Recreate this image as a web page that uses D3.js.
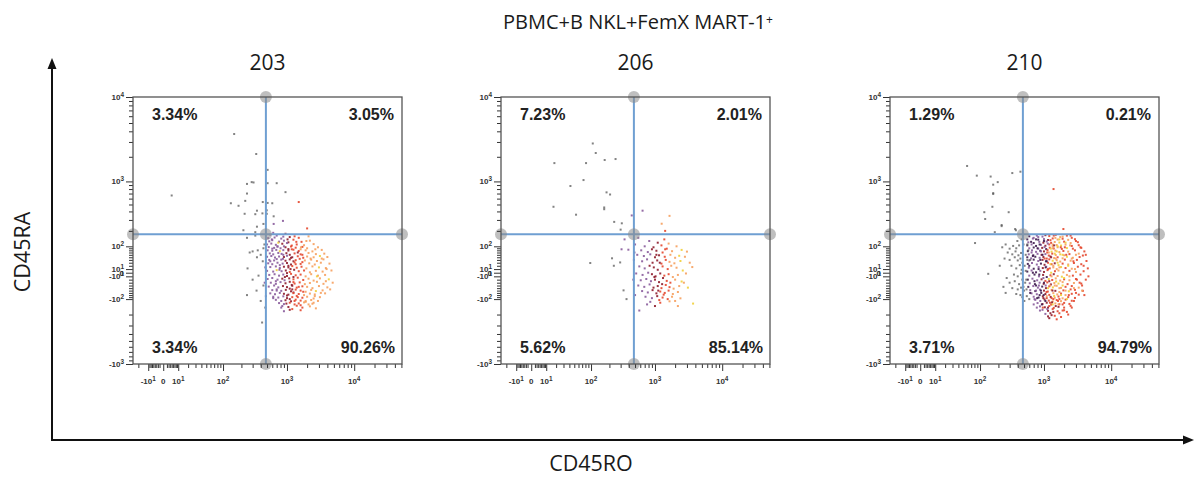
<!DOCTYPE html>
<html>
<head>
<meta charset="utf-8">
<script src="https://cdn.jsdelivr.net/npm/d3@7"></script>
<style>
  body { margin: 0; background: #fff; }
  svg { display: block; }
</style>
</head>
<body>
<svg id="chart" width="1194" height="477"></svg>
<script>
// ---------------- data ----------------
const figureTitle = "PBMC+B NKL+FemX MART-1";
const xAxisName = "CD45RO";
const yAxisName = "CD45RA";
const sampleIds = ["203", "206", "210"];

// quadrant percentages per sample
const pctUpperLeft  = [3.34, 7.23, 1.29];
const pctUpperRight = [3.05, 2.01, 0.21];
const pctLowerLeft  = [3.34, 5.62, 3.71];
const pctLowerRight = [90.26, 85.14, 94.79];

// quadrant gates (CD45RO, CD45RA)
const gateRO = 480;
const gateRA = 175;

// axis tick values
const xMajorTicks = [-10, 0, 10, 100, 1000, 10000];
const yMajorTicks = [-1000, -100, -10, 0, 10, 100, 1000, 10000];

// events: [CD45RO, CD45RA, colour class]
// colour class: 0 grey, 1 purple, 2 maroon, 3 red, 4 orange, 5 yellow, 6 dark purple
const events203 = [
  [560,172,1],[700,165,1],[950,178,2],[1300,160,3],[620,185,1],
  [520,148,1],[650,152,1],[820,145,1],[1100,155,2],[1500,150,3],[2100,160,4],[880,158,1],
  [540,128,1],[600,135,1],[760,126,1],[900,132,1],[1250,138,3],[1650,125,3],[2200,132,4],[1050,122,2],
  [500,110,1],[580,115,1],[680,108,1],[850,114,2],[1000,118,1],[1400,110,3],[1800,106,4],[2500,112,4],[1180,104,3],[740,120,5],
  [530,96,1],[640,92,1],[720,98,1],[800,90,1],[950,95,2],[1150,99,3],[1350,93,3],[1700,97,3],[2000,90,4],[2900,95,4],[600,88,1],[1050,86,2],
  [510,80,1],[600,78,1],[690,82,1],[780,76,5],[880,81,1],[1050,79,2],[1250,83,3],[1500,77,3],[1900,80,4],[2400,75,4],[3300,82,4],[1600,85,4],
  [550,66,1],[620,62,1],[740,68,1],[830,64,1],[980,67,2],[1100,60,2],[1300,66,3],[1600,62,3],[2100,68,4],[2700,63,4],[3600,65,4],[1450,70,2],
  [500,52,1],[580,55,1],[660,49,1],[760,53,1],[900,51,2],[1000,56,1],[1200,50,2],[1450,54,3],[1750,48,3],[2000,53,4],[2500,50,4],[3100,55,5],[4000,51,4],[870,44,1],
  [540,40,1],[640,38,1],[700,43,1],[820,41,1],[950,37,2],[1100,42,2],[1350,39,3],[1550,44,3],[1850,38,4],[2300,41,4],[2800,36,4],[3500,42,4],[1250,35,2],
  [520,28,1],[600,25,1],[720,30,1],[860,27,1],[1000,29,2],[1150,24,2],[1300,31,3],[1600,26,3],[1700,32,3],[2150,28,4],[2600,24,4],[3200,30,4],[4300,27,4],[780,22,1],
  [560,16,1],[680,18,1],[780,13,1],[900,17,2],[1050,15,2],[1200,19,3],[1400,14,3],[1650,17,3],[1950,12,4],[2400,18,4],[3000,15,5],[3800,13,4],[1130,10,2],
  [500,5,1],[620,3,1],[700,7,5],[830,4,1],[960,6,2],[1100,2,3],[1280,8,2],[1500,4,3],[1800,6,3],[2200,1,4],[2700,5,4],[3400,3,4],[4600,6,4],[1000,-1,2],
  [540,-6,1],[650,-4,1],[760,-8,1],[880,-5,1],[1000,-9,2],[1150,-3,3],[1350,-7,3],[1600,-5,3],[1900,-10,4],[2300,-4,4],[2900,-8,4],[3700,-6,4],[1250,-12,2],
  [510,-18,1],[600,-15,1],[720,-20,1],[850,-17,2],[920,-22,1],[1080,-16,2],[1250,-19,3],[1450,-14,3],[1750,-21,3],[2100,-17,4],[2500,-23,4],[3100,-16,4],[4200,-19,5],[680,-25,1],
  [570,-30,1],[680,-34,1],[800,-28,1],[950,-32,2],[1100,-27,2],[1300,-33,3],[1550,-29,3],[1850,-35,4],[2200,-31,4],[2800,-27,4],[3500,-34,4],[4800,-30,4],[1180,-38,2],
  [530,-44,1],[640,-40,1],[740,-47,1],[870,-42,2],[1000,-46,2],[1200,-41,2],[1400,-48,3],[1700,-43,3],[2000,-45,4],[2400,-50,4],[3000,-42,4],[4000,-47,4],[1100,-52,2],
  [600,-58,1],[700,-55,1],[820,-61,1],[960,-57,2],[1150,-63,2],[1350,-56,3],[1600,-60,3],[1900,-65,4],[2300,-57,4],[2700,-62,5],[3400,-59,4],[1250,-68,2],
  [560,-72,1],[660,-76,1],[780,-70,1],[900,-74,2],[1050,-78,2],[1250,-71,3],[1500,-75,3],[1800,-80,4],[2200,-73,4],[2600,-77,4],[3700,-72,4],[1000,-82,2],
  [620,-88,1],[740,-92,1],[880,-86,1],[1000,-95,2],[1200,-90,3],[1400,-84,3],[1700,-93,3],[2000,-88,4],[2500,-97,4],[3100,-90,4],[1100,-100,2],
  [680,-104,1],[820,-110,1],[950,-106,2],[1150,-112,2],[1350,-103,3],[1600,-108,3],[1900,-115,4],[2300,-105,4],[2900,-110,4],
  [760,-122,1],[900,-128,1],[1100,-120,3],[1300,-130,3],[1500,-124,3],[1800,-118,4],[2400,-126,4],
  [850,-140,1],[1050,-146,2],[1400,-138,3],[1700,-150,3],[2200,-142,4],
  [1200,-160,3],[1600,-168,3],[2700,-155,4],[900,-175,1],
  [590,140,1],[720,100,1],[880,60,1],[1020,140,2],[1180,85,3],[1380,125,3],[1620,95,4],[1950,130,4],[2650,85,4],[3300,45,4],
  [560,35,1],[770,8,1],[930,-12,2],[1200,-55,2],[1450,-90,3],[1750,-65,3],[2100,-130,4],[2600,-85,4],[3800,-25,4],[4400,-55,4],
  [620,-95,1],[820,-150,1],[1100,-165,2],[1300,-110,3],[1600,-135,3],[2500,-120,4],[3200,-70,4],[3900,10,4],[1700,60,3],[2250,45,4],
  [1050,20,2],[1250,-28,3],[1500,-45,3],[900,100,1],[1350,25,3],[1900,-110,4],[2800,-10,5],[1150,48,2],[700,-60,1],[980,-125,2],
  // sparse events outside the main population
  [153,3720,0],[341,2160,0],[510,1390,0],[245,930,0],[290,980,0],[310,970,0],[510,950,0],[700,950,0],
  [5,660,0],[245,700,0],[950,730,0],[135,520,0],[180,480,0],[230,560,0],[430,540,0],[510,525,0],[600,520,0],
  [1500,540,3],[350,410,0],[495,415,0],[225,370,0],[330,365,0],[425,375,0],[495,370,0],[630,340,0],
  [870,290,1],[440,260,0],[630,260,1],[215,205,0],[330,190,0],[350,235,0],[2000,220,3],
  [245,150,0],[330,165,0],[270,70,0],[300,75,0],[360,80,0],[440,90,0],[400,60,0],[350,50,0],[430,35,0],
  [470,15,1],[370,-8,0],[250,12,0],[300,-20,0],[440,-40,0],[345,-60,0],[480,-85,1],[245,-80,0],
  [420,-270,0],[460,-30,1],[400,-110,0],[455,110,0],[470,-150,0]
];

const events206 = [
  [560,150,1],[820,130,1],[1100,120,2],[1380,140,3],[500,110,1],[700,100,1],[950,95,2],[1250,105,3],[1600,115,4],[2100,100,4],
  [620,80,1],[780,72,1],[900,85,2],[1050,78,2],[1300,70,3],[1500,88,3],[1800,76,4],[2500,82,5],[3000,74,4],
  [540,60,1],[680,55,1],[850,62,1],[1000,50,2],[1150,58,2],[1400,52,3],[1700,60,4],[2000,48,4],[2300,56,5],[2800,52,4],
  [480,40,1],[640,35,1],[760,42,1],[920,30,2],[1080,38,2],[1250,27,3],[1450,40,3],[1650,33,4],[1950,28,4],[2400,36,5],[3300,30,4],
  [580,18,1],[700,12,1],[830,20,2],[960,15,2],[1100,8,2],[1300,18,3],[1550,10,3],[1750,20,4],[2100,14,4],[2600,6,5],[3600,16,4],
  [520,-2,1],[650,-6,1],[790,0,1],[900,-4,2],[1020,-10,2],[1200,-2,2],[1380,-8,3],[1600,-4,3],[1850,-12,4],[2200,-6,4],[2900,-2,4],
  [610,-22,1],[740,-18,1],[870,-25,1],[1000,-20,2],[1150,-28,2],[1320,-15,2],[1500,-24,3],[1700,-30,3],[2000,-20,4],[2500,-26,5],
  [560,-40,1],[690,-45,1],[830,-36,1],[950,-48,2],[1100,-42,2],[1250,-50,3],[1450,-38,3],[1650,-46,3],[1900,-52,4],[2300,-42,4],[3100,-48,5],
  [640,-62,1],[780,-68,1],[920,-58,2],[1050,-72,2],[1200,-64,3],[1400,-70,3],[1600,-60,3],[1850,-75,4],[2200,-66,4],
  [720,-88,1],[900,-95,1],[1080,-85,2],[1300,-92,3],[1550,-100,3],[1800,-88,4],[2400,-96,4],
  [850,-115,1],[1200,-120,3],[1650,-112,4],[3700,-125,5],[2200,-140,4],[1000,-140,2],[500,-80,1],[470,-20,1],[490,70,1],
  [1120,-60,2],[1280,-35,2],[980,-12,2],[1180,30,2],[1350,-78,3],[1420,85,3],[2700,-30,4],[2000,-110,4],[760,-130,1],[1050,60,2],[1160,-105,3],
  // sparse events outside the main population
  [107,2880,0],[120,2220,0],[18,1680,0],[82,1680,0],[168,1830,0],[250,1880,0],[42,875,0],[74,1040,0],
  [180,725,0],[205,680,0],[17,465,0],[54,359,0],[165,455,0],[165,430,0],[238,280,0],[313,266,0],[300,210,0],
  [445,350,1],[650,410,1],[1260,262,4],[1650,345,4],[1420,200,3],
  [345,140,1],[310,85,1],[395,83,1],[220,46,0],[295,31,0],[235,20,0],[97,29,0],[333,-59,0],[580,-170,1],[370,-100,0]
];

const events210 = [
  [600,160,6],[780,165,1],[950,158,1],[1200,162,3],[1500,170,3],[1900,158,4],[2500,165,3],
  [560,140,6],[680,145,1],[820,138,6],[1000,142,1],[1150,136,2],[1350,146,3],[1600,139,4],[1900,144,3],[2300,137,4],[2900,141,3],
  [580,122,1],[700,118,6],[850,125,1],[980,120,2],[1100,127,1],[1280,119,3],[1450,124,4],[1700,121,5],[2000,126,3],[2500,118,4],[3200,123,3],
  [560,105,6],[650,110,1],[760,102,6],[900,108,1],[1050,103,2],[1200,110,3],[1350,101,4],[1550,107,4],[1800,104,5],[2100,109,4],[2600,102,3],[3300,106,3],
  [600,90,1],[700,94,6],[820,88,1],[940,92,2],[1080,86,6],[1220,93,3],[1400,89,3],[1600,95,4],[1850,87,3],[2200,91,5],[2700,88,3],[3600,92,3],
  [570,76,6],[660,80,1],[760,73,1],[880,78,6],[1000,75,2],[1130,81,3],[1300,74,5],[1480,79,4],[1700,72,4],[1950,77,3],[2300,74,4],[2900,80,3],[4000,75,3],
  [590,62,1],[690,58,6],[800,64,1],[920,60,2],[1050,63,1],[1180,57,3],[1330,65,3],[1500,59,4],[1750,62,5],[2000,58,4],[2400,63,3],[3000,60,4],[3800,57,3],
  [560,50,6],[640,46,1],[740,52,6],[860,48,1],[980,51,2],[1100,45,3],[1250,53,2],[1420,47,4],[1600,50,3],[1900,46,4],[2200,52,5],[2700,48,4],[3400,51,3],
  [600,38,1],[700,41,6],[820,36,1],[950,40,2],[1070,35,6],[1200,42,3],[1350,37,5],[1550,39,4],[1750,34,4],[2050,41,3],[2500,37,4],[3100,40,3],[4300,36,3],
  [570,26,6],[660,29,1],[780,24,1],[900,27,6],[1020,23,2],[1150,30,3],[1300,25,3],[1450,28,2],[1650,22,5],[1900,27,3],[2300,24,4],[2800,29,3],[3600,25,3],
  [590,14,1],[700,11,6],[830,16,1],[960,13,2],[1080,17,1],[1220,12,3],[1380,15,4],[1550,10,4],[1800,16,5],[2100,13,3],[2600,11,4],[3200,17,3],[4500,12,3],
  [560,3,6],[650,6,1],[760,1,6],[880,5,1],[1000,2,2],[1130,7,3],[1280,0,5],[1460,4,3],[1650,6,4],[1950,1,4],[2400,5,3],[3000,2,4],[3900,4,3],
  [600,-8,1],[720,-5,6],[840,-10,1],[970,-6,2],[1100,-12,6],[1250,-7,3],[1400,-4,2],[1600,-9,4],[1850,-11,5],[2200,-6,4],[2700,-8,3],[3500,-5,3],
  [570,-20,6],[670,-17,1],[790,-22,1],[920,-19,2],[1050,-24,3],[1180,-18,5],[1330,-21,3],[1500,-16,4],[1750,-23,4],[2000,-19,3],[2400,-22,4],[3000,-18,3],[4200,-20,3],
  [610,-32,1],[730,-35,6],[860,-30,1],[990,-34,2],[1120,-29,3],[1270,-36,2],[1430,-31,4],[1650,-33,5],[1900,-28,4],[2250,-35,3],[2800,-31,4],[3600,-33,3],
  [580,-45,6],[690,-42,1],[810,-48,1],[940,-44,6],[1070,-50,2],[1200,-43,3],[1360,-47,5],[1550,-41,4],[1800,-49,4],[2100,-45,3],[2600,-42,3],[3300,-48,4],
  [620,-58,1],[740,-62,6],[870,-56,1],[1000,-60,2],[1140,-64,3],[1300,-57,4],[1480,-61,2],[1700,-66,4],[1950,-59,3],[2350,-63,5],[2900,-57,3],[3800,-61,3],
  [650,-72,1],[780,-76,1],[910,-70,6],[1050,-75,2],[1200,-79,3],[1380,-71,4],[1580,-77,4],[1800,-73,3],[2100,-80,4],[2600,-74,3],[3300,-78,3],
  [700,-88,1],[830,-92,6],[960,-86,2],[1100,-95,3],[1260,-89,2],[1450,-93,4],[1650,-87,3],[1900,-96,4],[2300,-90,3],[2900,-94,3],
  [740,-104,1],[880,-110,1],[1020,-102,2],[1180,-108,3],[1350,-113,4],[1550,-105,3],[1800,-111,4],[2100,-103,3],[2600,-109,3],
  [800,-122,1],[950,-128,2],[1100,-120,2],[1280,-131,3],[1480,-124,4],[1700,-129,3],[2000,-121,3],[2400,-127,3],
  [870,-142,1],[1030,-148,2],[1200,-140,3],[1400,-152,3],[1650,-145,2],[2000,-150,3],[2500,-139,3],
  [950,-165,1],[1150,-172,2],[1350,-160,3],[1600,-175,3],[2000,-168,3],
  [1050,-195,1],[1300,-205,2],[1700,-190,3],[2300,-200,3],
  [1200,-230,2],[1550,-240,3],
  [1120,70,3],[1260,88,5],[1380,20,4],[1520,-26,5],[1240,-40,4],[1090,-66,3],[980,-95,2],[1420,-84,5],[1600,30,5],[1700,-50,4],
  [1350,110,4],[860,-80,6],[760,-40,6],[680,0,6],[880,40,6],[1020,96,1],[1150,-150,2],[1900,-130,3],[2150,60,3],[2500,-55,3],
  [650,70,1],[720,-100,1],[1320,-118,2],[1250,135,3],[1480,150,4],[820,155,1],[1000,-30,6],[1150,10,3],[1300,-95,3],[1450,65,5],
  [1620,-110,3],[1780,95,3],[2350,-80,3],[2750,35,3],[3100,-20,3],[3700,-40,3],[4600,-10,3],[4000,-80,3],
  [1700,140,5],[2100,120,5],[1900,60,5],[2300,20,5],[1150,-50,5],[1800,-80,5],[2000,-15,5],[1600,100,5],[1350,-130,5],[2200,-100,5],
  [640,125,6],[600,20,6],[620,-70,6],[700,-130,1],[760,140,6],[800,90,6],[850,-5,6],[900,-60,6],[950,60,6],[1000,130,6],
  [1050,-110,6],[1100,35,6],[680,55,6],[720,-25,6],[790,-95,6],[830,10,6],[860,110,6],[930,-130,6],[990,-80,6],[1060,15,6],
  [1120,-160,1],[870,-170,1],[780,-150,1],[700,150,1],[760,-60,1],[840,-40,1],[900,75,1],[980,-15,1],[1060,-40,1],[1140,115,1],
  [1200,-25,2],[1280,50,2],[1340,-60,2],[1420,105,2],[1500,-140,2],[1380,-180,2],[1250,-190,2],[1150,-215,2],[1450,-210,3],[1800,-220,3],
  [1900,-170,3],[2200,-180,3],[2600,-150,3],[2800,-110,3],[3000,-70,3],[3400,-30,3],[3900,20,3],[4200,60,3],[3500,95,3],[3000,130,3],
  [2600,150,3],[2200,165,3],[1750,155,4],[1400,165,3],[1050,168,2],[2400,-10,4],[2600,45,4],[2800,-50,4],[2100,-60,4],[1700,15,4],
  [1500,45,4],[1300,-10,4],[1650,-130,4],[1450,-40,4],[1900,-40,5],[1550,75,5],[1250,25,5],[1350,90,4],[1180,70,4],[1100,-85,4],
  [960,-150,3],[1020,45,3],[1230,-120,3],[1380,-100,3],[1700,-100,3],[2050,95,3],[2450,105,4],[2900,10,4],[3300,65,4],[3700,-60,4],
  [580,80,0],[540,-20,0],[600,-100,0],[560,110,0],[620,40,0],
  // events left of the CD45RO gate and sparse outliers
  [230,95,0],[260,110,0],[300,88,0],[340,102,0],[380,90,0],[420,105,0],[280,70,0],[330,62,0],[370,75,0],[410,58,0],
  [450,68,0],[250,45,0],[300,40,0],[360,50,0],[400,38,0],[440,45,0],[470,30,0],[320,20,0],[380,12,0],[430,22,0],
  [460,8,0],[350,-5,0],[400,-10,0],[450,-2,0],[270,-15,0],[300,-30,0],[360,-25,0],[420,-35,0],[470,-20,0],[240,-45,0],
  [330,-50,0],[400,-55,0],[450,-48,0],[380,-75,0],[440,-80,0],[470,-90,0],[500,-60,0],[520,-30,0],[510,20,0],[530,60,0],
  [490,110,0],[550,-85,0],[210,20,0],[260,-70,0],[460,140,0],[395,130,0],[505,-110,0],[530,5,0],[560,40,0],[490,-45,0],[545,-55,0],
  [59,1550,0],[88,1180,0],[150,1150,0],[165,910,0],[195,980,0],[330,1270,0],[440,1320,0],[165,710,0],[165,690,0],[1390,800,3],
  [160,465,0],[118,390,0],[290,390,0],[122,310,0],[225,240,0],[175,190,0],[375,205,0],[1950,215,3],[82,118,0],[137,-3,0],
  [365,215,0],[225,250,0]
];

const eventSets = [events203, events206, events210];

// ---------------- layout ----------------
const svg = d3.select("#chart");
const plotW = 269, plotH = 267;
const panelLeft = [133, 501, 890];
const panelTop = 97;

const palette = ["#5a5a5a", "#8a5c9c", "#8e1c2c", "#e4472e", "#f6a05e", "#f1cf3a", "#3e1a4e"];
const gateColor = "#6f9fd2";
const textFont = "'Open Sans', 'Noto Sans', sans-serif";
const numFont = "'Liberation Sans', Arial, sans-serif";

const x = d3.scaleSymlog().constant(15).domain([-27, 51000]).range([0, plotW]);
const y = d3.scaleSymlog().constant(100).domain([-1000, 10000]).range([plotH, 0]);

// minor ticks: 2..9 per decade on both sides of zero, within the axis range
function minorTicks(scale, decades) {
  const [lo, hi] = scale.domain();
  const out = [];
  decades.forEach(d => {
    for (let m = 2; m <= 9; m++) {
      const v = m * d;
      if (v <= hi) out.push(v);
      if (-v >= lo) out.push(-v);
    }
  });
  return out;
}
const xMinorTicks = minorTicks(x, [1, 10, 100, 1000, 10000]);
const yMinorTicks = minorTicks(y, [10, 100, 1000]);

// "10^k" style label with a superscript exponent
function powerLabel(sel, v) {
  if (v === 0) { sel.text("0"); return; }
  const k = Math.round(Math.log10(Math.abs(v)));
  sel.append("tspan").text((v < 0 ? "-" : "") + "10");
  sel.append("tspan").attr("dy", "-0.5em").attr("font-size", "0.8em").text(k);
}

// ---------------- titles & outer axes ----------------
const title = svg.append("text")
  .attr("x", 638).attr("y", 29)
  .attr("text-anchor", "middle")
  .attr("font-family", textFont).attr("font-size", 20).attr("fill", "#1a1a1a");
title.append("tspan").text(figureTitle);
title.append("tspan").attr("dy", "-0.45em").attr("font-size", "0.6em").text("+");

svg.append("line").attr("x1", 52).attr("y1", 440).attr("x2", 52).attr("y2", 68)
  .attr("stroke", "#111").attr("stroke-width", 2);
svg.append("path").attr("d", "M52,58 L47.5,69 L56.5,69 Z").attr("fill", "#111");
svg.append("line").attr("x1", 51).attr("y1", 440).attr("x2", 1184).attr("y2", 440)
  .attr("stroke", "#111").attr("stroke-width", 2);
svg.append("path").attr("d", "M1194,440 L1183,435.5 L1183,444.5 Z").attr("fill", "#111");

svg.append("text")
  .attr("transform", "translate(30,252) rotate(-90)")
  .attr("text-anchor", "middle")
  .attr("font-family", textFont).attr("font-size", 21.5).attr("fill", "#1a1a1a")
  .text(yAxisName);
svg.append("text")
  .attr("x", 591).attr("y", 471)
  .attr("text-anchor", "middle")
  .attr("font-family", textFont).attr("font-size", 21.5).attr("fill", "#1a1a1a")
  .text(xAxisName);

// ---------------- panels ----------------
sampleIds.forEach((id, i) => {
  const g = svg.append("g").attr("transform", `translate(${panelLeft[i]},${panelTop})`);

  svg.append("text")
    .attr("x", panelLeft[i] + plotW / 2).attr("y", 70)
    .attr("text-anchor", "middle")
    .attr("font-family", textFont).attr("font-size", 21).attr("fill", "#1a1a1a")
    .text(id);

  // events
  g.append("g").selectAll("rect")
    .data(eventSets[i])
    .join("rect")
    .attr("x", d => x(d[0]) - 1)
    .attr("y", d => y(d[1]) - 1)
    .attr("width", 2).attr("height", 2)
    .attr("fill", d => palette[d[2]])
    .attr("opacity", d => d[2] === 0 ? 0.75 : 0.9);

  // quadrant gate
  const gx = x(gateRO), gy = y(gateRA);
  g.append("line").attr("x1", gx).attr("x2", gx).attr("y1", 0).attr("y2", plotH)
    .attr("stroke", gateColor).attr("stroke-width", 2);
  g.append("line").attr("x1", 0).attr("x2", plotW).attr("y1", gy).attr("y2", gy)
    .attr("stroke", gateColor).attr("stroke-width", 2);
  const handles = [[gx, 0], [gx, plotH], [0, gy], [plotW, gy], [gx, gy]];
  g.append("g").selectAll("circle").data(handles).join("circle")
    .attr("cx", d => d[0]).attr("cy", d => d[1]).attr("r", 6)
    .attr("fill", "#8a8a8a").attr("opacity", 0.55);

  // axes: minor ticks, major ticks, frame
  const axisStyle = sel => sel.call(s => s.select(".domain").remove())
    .selectAll("line").attr("stroke", "#333").attr("stroke-width", 1);
  g.append("g").call(d3.axisLeft(y).tickValues(yMinorTicks).tickSize(4).tickFormat("")).call(axisStyle);
  g.append("g").call(d3.axisLeft(y).tickValues(yMajorTicks).tickSize(7).tickFormat("")).call(axisStyle);
  g.append("g").attr("transform", `translate(0,${plotH})`)
    .call(d3.axisBottom(x).tickValues(xMinorTicks).tickSize(4).tickFormat("")).call(axisStyle);
  g.append("g").attr("transform", `translate(0,${plotH})`)
    .call(d3.axisBottom(x).tickValues(xMajorTicks).tickSize(7).tickFormat("")).call(axisStyle);

  g.append("rect").attr("width", plotW).attr("height", plotH)
    .attr("fill", "none").attr("stroke", "#555").attr("stroke-width", 1.3);

  // tick labels
  g.append("g").selectAll("text").data(yMajorTicks).join("text")
    .attr("x", -9).attr("y", d => y(d)).attr("dy", "0.35em")
    .attr("text-anchor", "end")
    .attr("font-family", numFont).attr("font-size", 8).attr("font-weight", "bold").attr("fill", "#333")
    .each(function (d) { powerLabel(d3.select(this), d); });
  g.append("g").selectAll("text").data(xMajorTicks).join("text")
    .attr("x", d => x(d)).attr("y", plotH + 20)
    .attr("text-anchor", "middle")
    .attr("font-family", numFont).attr("font-size", 8).attr("font-weight", "bold").attr("fill", "#333")
    .each(function (d) { powerLabel(d3.select(this), d); });

  // quadrant percentages
  const pct = v => v.toFixed(2) + "%";
  const lab = (tx, ty, anchor, v) => g.append("text")
    .attr("x", tx).attr("y", ty).attr("text-anchor", anchor)
    .attr("font-family", numFont).attr("font-size", 16).attr("font-weight", "bold").attr("fill", "#222")
    .text(pct(v));
  lab(19, 23, "start", pctUpperLeft[i]);
  lab(plotW - 8, 23, "end", pctUpperRight[i]);
  lab(19, plotH - 11, "start", pctLowerLeft[i]);
  lab(plotW - 7, plotH - 11, "end", pctLowerRight[i]);
});
</script>
</body>
</html>
